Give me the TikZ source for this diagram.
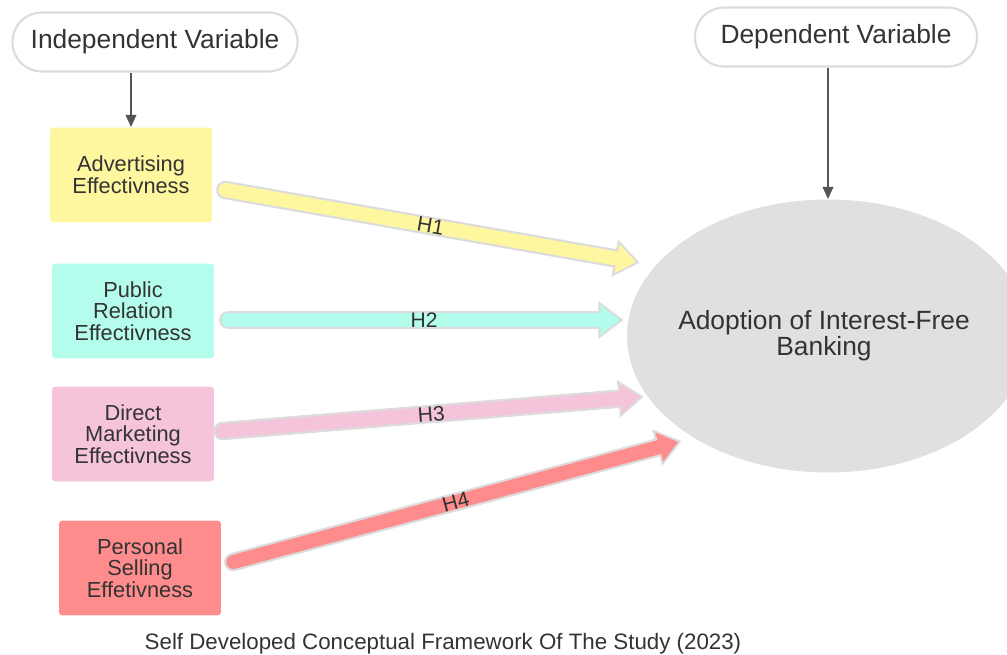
\documentclass[tikz,border=0pt]{standalone}
\usepackage{fontspec}
\setmainfont{Liberation Sans}
\usepackage{xcolor}
\usetikzlibrary{arrows.meta,positioning,calc,shapes.geometric}

\definecolor{ink}{HTML}{333333}
\definecolor{edge}{HTML}{DCDCDC}
\definecolor{pointer}{HTML}{555555}
\definecolor{advyellow}{HTML}{FFF6A0}
\definecolor{prcyan}{HTML}{B4FCEB}
\definecolor{dmpink}{HTML}{F5C4DA}
\definecolor{psred}{HTML}{FF8C8C}
\definecolor{bubble}{HTML}{E0E0E0}

\begin{document}
\begin{tikzpicture}[x=0.02cm, y=-0.02cm,
    box/.style={rounded corners=2pt, minimum width=3.24cm, minimum height=1.9cm, align=center, text=ink, font=\fontsize{12.4}{12.4}\selectfont},
    tag/.style={draw=edge, line width=1.2pt, fill=white, rounded corners=0.58cm, minimum height=1.18cm, text=ink, font=\fontsize{15}{15}\selectfont},
    link/.style={draw=pointer, line width=1.1pt, -{Triangle[length=7pt, width=6pt]}},
    hyp/.style={draw=#1, line width=8pt, line cap=round, -{Triangle[length=11pt, width=17pt, line width=0pt]},
        preaction={draw=edge, line width=10.5pt, line cap=round, -{Triangle[length=14.3pt, width=21.5pt, line width=0pt]}, shorten >=-2pt}},
    hlabel/.style={midway, sloped, text=ink, inner sep=0pt, font=\fontsize{12}{12}\selectfont}
]
    \clip (0,0) rectangle (1007,655);

    % Variable tags
    \node[tag, minimum width=5.7cm] (indep) at (155,42) {Independent Variable};
    \node[tag, minimum width=5.64cm] (dep) at (836,37) {Dependent Variable};

    % Independent variables
    \node[box, fill=advyellow] (adv) at (131,175) {Advertising\\Effectivness};
    \node[box, fill=prcyan] (pr) at (133,311) {Public\\Relation\\Effectivness};
    \node[box, fill=dmpink] (dm) at (133,434) {Direct\\Marketing\\Effectivness};
    \node[box, fill=psred] (ps) at (140,568) {Personal\\Selling\\Effetivness};

    % Dependent variable
    \node[ellipse, fill=bubble, inner sep=0pt, minimum width=8.04cm, minimum height=5.46cm,
        label={[align=center, text=ink, font=\fontsize{15}{15}\selectfont, xshift=-0.08cm]center:{Adoption of Interest-Free\\Banking}}] (adopt) at (828,336) {};

    \draw[link] (indep.south -| adv.north) -- (adv.north);
    \draw[link] (dep.south -| adopt.north) -- (adopt.north);

    % Hypotheses
    \coordinate (tip1) at (636,262);
    \coordinate (tip2) at (620,320);
    \coordinate (tip3) at (640,397);
    \coordinate (tip4) at (678,442);

    \draw[hyp=advyellow] ($(adv.east)+(13,15)$) -- (tip1);
    \draw[hyp=prcyan] ($(pr.east)+(14,9)$) -- (tip2);
    \draw[hyp=dmpink] ($(dm.east)+(8,-3)$) -- (tip3);
    \draw[hyp=psred] ($(ps.east)+(12,-6)$) -- (tip4);

    \path ($(adv.east)+(13,15)$) -- (tip1) node[hlabel] {H1};
    \path ($(pr.east)+(14,9)$) -- (tip2) node[hlabel] {H2};
    \path ($(dm.east)+(8,-3)$) -- (tip3) node[hlabel] {H3};
    \path ($(ps.east)+(12,-6)$) -- (tip4) node[hlabel] {H4};

    % Caption
    \node[text=ink, font=\fontsize{12.7}{12.7}\selectfont] (caption) at (443,644) {Self Developed Conceptual Framework Of The Study (2023)};
\end{tikzpicture}
\end{document}
